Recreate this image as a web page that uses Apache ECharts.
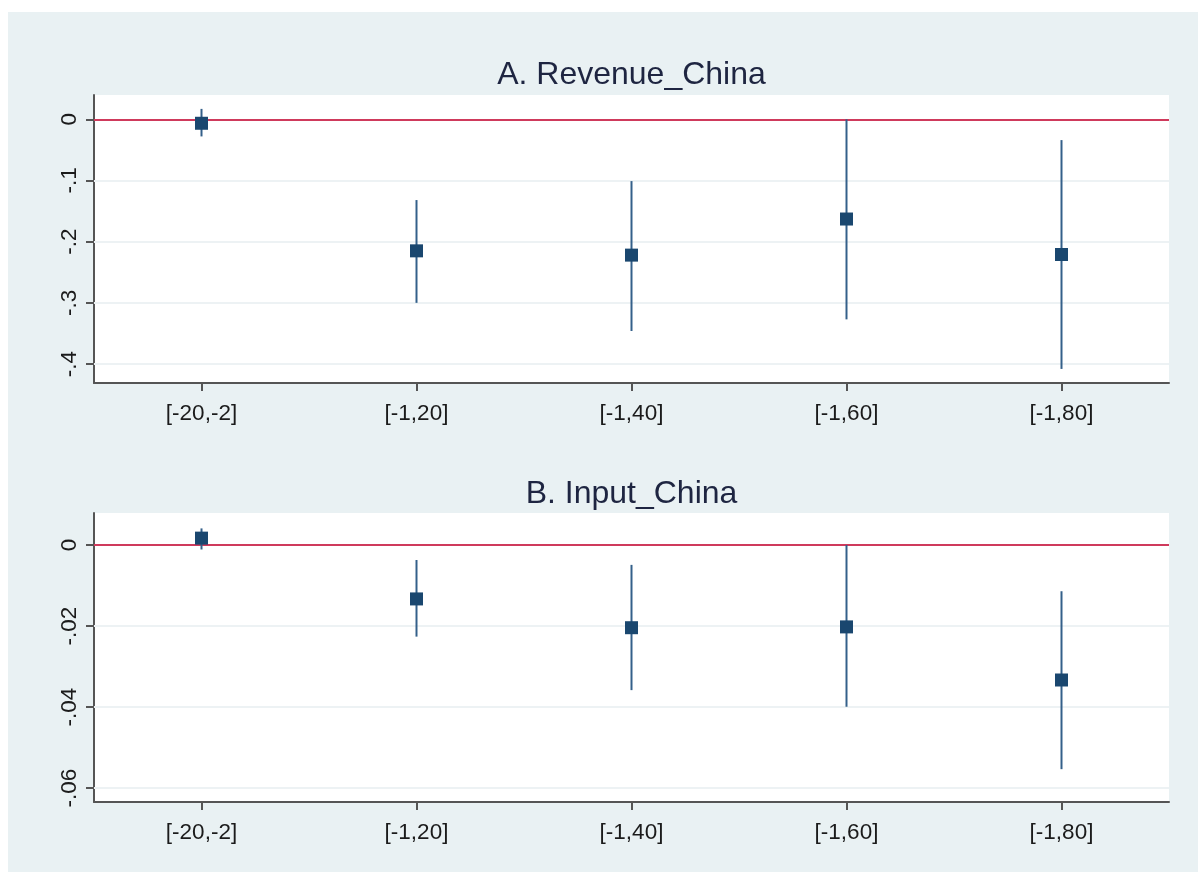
<!DOCTYPE html>
<html>
<head>
<meta charset="utf-8">
<script src="https://cdn.jsdelivr.net/npm/echarts@6/dist/echarts.min.js"></script>
<style>
  html, body { margin: 0; padding: 0; background: #ffffff; }
  #chart { width: 1198px; height: 880px; }
</style>
</head>
<body>
<div id="chart"></div>
<script>
// Event windows on the x axis
const categories = ['[-20,-2]', '[-1,20]', '[-1,40]', '[-1,60]', '[-1,80]'];

// Panel A: Revenue_China — point estimates and confidence bounds
const revenueCoef = [-0.0065, -0.215, -0.222, -0.163, -0.221];
const revenueLo   = [-0.028, -0.300, -0.346, -0.327, -0.408];
const revenueHi   = [0.017, -0.132, -0.101, 0.000, -0.034];

// Panel B: Input_China — point estimates and confidence bounds
const inputCoef = [0.0017, -0.0133, -0.0204, -0.0202, -0.0333];
const inputLo   = [-0.0011, -0.0226, -0.0358, -0.0399, -0.0553];
const inputHi   = [0.0041, -0.0037, -0.0049, 0.0000, -0.0114];

// Y-axis tick values
const revenueTicks = [0, -0.1, -0.2, -0.3, -0.4];
const inputTicks = [0, -0.02, -0.04, -0.06];

const FONT = '"Liberation Sans", Arial, sans-serif';
const NAVY = '#1a476f';
const BAR = '#34608a';
const AXIS = '#555555';
const GRIDLINE = '#edf2f4';
const ZERO = '#cf3a5c';

function fmtTick(v) {
  if (v === 0) return '0';
  return String(+v.toFixed(4)).replace('0.', '.');
}

function xAxisFor(gridIndex) {
  return {
    type: 'category',
    gridIndex,
    data: categories,
    boundaryGap: true,
    axisLine: { show: true, onZero: false, lineStyle: { color: AXIS, width: 2 } },
    axisTick: { show: true, alignWithLabel: true, length: 8, lineStyle: { color: AXIS, width: 2 } },
    axisLabel: { color: '#1b1b1b', fontFamily: FONT, fontSize: 22.5, margin: 19 },
    splitLine: { show: false }
  };
}

function yAxisFor(gridIndex, min, max, ticks) {
  return {
    type: 'value',
    gridIndex,
    min, max,
    axisLine: { show: true, onZero: false, lineStyle: { color: AXIS, width: 2 } },
    axisTick: { show: true, length: 8, customValues: ticks, lineStyle: { color: AXIS, width: 2 } },
    axisLabel: {
      customValues: ticks,
      rotate: 90,
      margin: 13,
      color: '#1b1b1b',
      fontFamily: FONT,
      fontSize: 22.5,
      formatter: fmtTick
    },
    splitLine: { show: false }
  };
}

function errorBars(idx, lo, hi) {
  return {
    type: 'custom',
    xAxisIndex: idx,
    yAxisIndex: idx,
    z: 3,
    silent: true,
    data: categories.map((c, i) => [i, lo[i], hi[i]]),
    encode: { x: 0, y: [1, 2] },
    renderItem(params, api) {
      const a = api.coord([api.value(0), api.value(1)]);
      const b = api.coord([api.value(0), api.value(2)]);
      return {
        type: 'line',
        shape: { x1: a[0], y1: a[1], x2: b[0], y2: b[1] },
        style: { stroke: BAR, lineWidth: 2 }
      };
    }
  };
}

function points(idx, coef) {
  return {
    type: 'scatter',
    xAxisIndex: idx,
    yAxisIndex: idx,
    z: 4,
    silent: true,
    symbol: 'rect',
    symbolSize: 13,
    itemStyle: { color: NAVY, opacity: 1 },
    data: coef
  };
}

function referenceLines(idx, ticks) {
  return {
    type: 'line',
    xAxisIndex: idx,
    yAxisIndex: idx,
    z: 1,
    silent: true,
    data: [],
    markLine: {
      z: 1,
      silent: true,
      symbol: 'none',
      animation: false,
      label: { show: false },
      data: ticks.map(v => ({
        yAxis: v,
        lineStyle: v === 0
          ? { color: ZERO, width: 2, type: 'solid' }
          : { color: GRIDLINE, width: 2, type: 'solid' }
      }))
    }
  };
}

const chart = echarts.init(document.getElementById('chart'), null, { renderer: 'canvas' });

chart.setOption({
  animation: false,
  backgroundColor: '#ffffff',
  graphic: [
    {
      type: 'rect',
      z: -10,
      shape: { x: 8, y: 12, width: 1190, height: 860 },
      style: { fill: '#e9f1f3' }
    },
    {
      type: 'text',
      x: 631.5, y: 75,
      style: {
        text: 'A. Revenue_China',
        font: '32px ' + FONT,
        fill: '#1e2541',
        textAlign: 'center',
        textVerticalAlign: 'middle'
      }
    },
    {
      type: 'text',
      x: 631.5, y: 494,
      style: {
        text: 'B. Input_China',
        font: '32px ' + FONT,
        fill: '#1e2541',
        textAlign: 'center',
        textVerticalAlign: 'middle'
      }
    }
  ],
  grid: [
    { left: 94, right: 29, top: 95, height: 288, show: true, backgroundColor: '#ffffff', borderWidth: 0 },
    { left: 94, right: 29, top: 513, height: 289, show: true, backgroundColor: '#ffffff', borderWidth: 0 }
  ],
  xAxis: [xAxisFor(0), xAxisFor(1)],
  yAxis: [
    yAxisFor(0, -0.431, 0.0397, revenueTicks),
    yAxisFor(1, -0.0634, 0.0079, inputTicks)
  ],
  series: [
    referenceLines(0, revenueTicks),
    errorBars(0, revenueLo, revenueHi),
    points(0, revenueCoef),
    referenceLines(1, inputTicks),
    errorBars(1, inputLo, inputHi),
    points(1, inputCoef)
  ]
});
</script>
</body>
</html>
